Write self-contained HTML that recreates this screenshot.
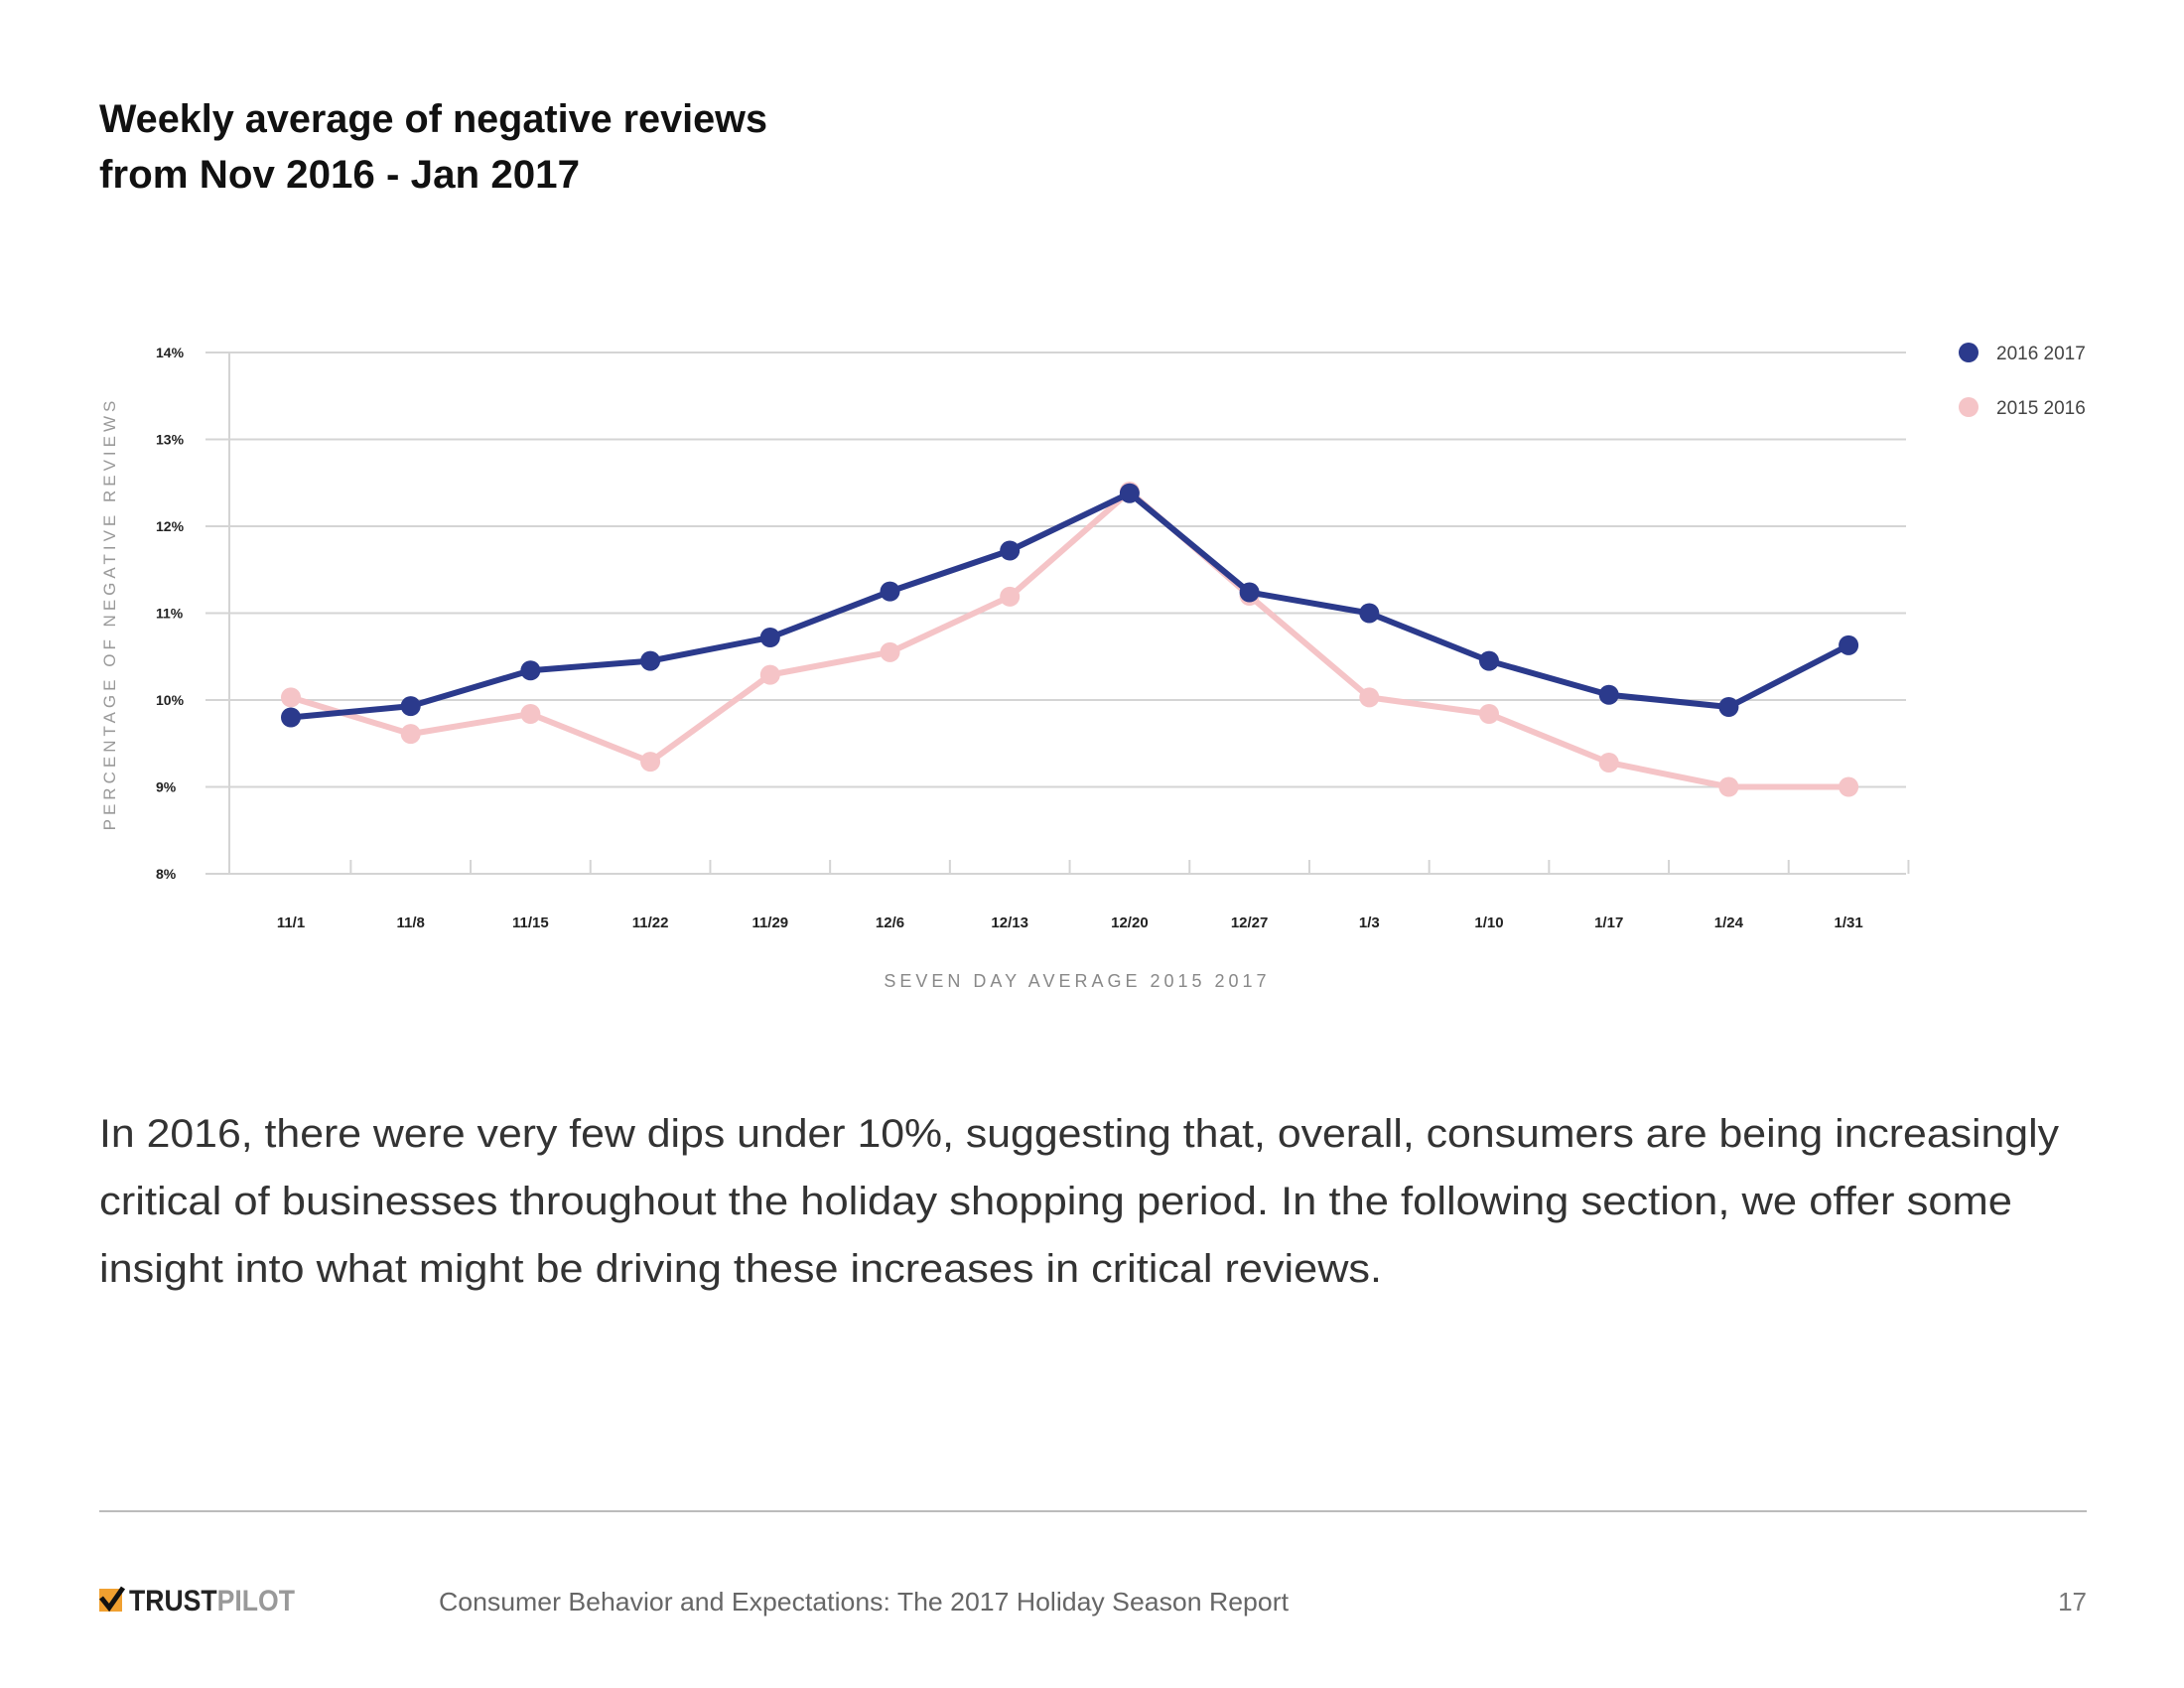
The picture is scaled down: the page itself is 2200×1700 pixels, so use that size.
<!DOCTYPE html>
<html><head><meta charset="utf-8"><style>
html,body{margin:0;padding:0;background:#fff;}
svg{display:block;font-family:"Liberation Sans",sans-serif;}
</style></head><body>
<svg width="2200" height="1700" viewBox="0 0 2200 1700" xmlns="http://www.w3.org/2000/svg">
<text x="100" y="133" font-size="40" font-weight="bold" fill="#111" textLength="673" lengthAdjust="spacingAndGlyphs">Weekly average of negative reviews</text>
<text x="100" y="189" font-size="40" font-weight="bold" fill="#111" textLength="484" lengthAdjust="spacingAndGlyphs">from Nov 2016 - Jan 2017</text>
<g id="chart"></g>
<text font-size="17" fill="#999" letter-spacing="4" text-anchor="middle" transform="translate(116,618) rotate(-90)">PERCENTAGE OF NEGATIVE REVIEWS</text>
<text x="1085" y="994" font-size="18" fill="#888" letter-spacing="4" text-anchor="middle">SEVEN DAY AVERAGE 2015 2017</text>
<g>
<circle cx="1983" cy="355" r="10" fill="#2b3a8c"/>
<text x="2011" y="362" font-size="19" fill="#444">2016  2017</text>
<circle cx="1983" cy="410" r="10" fill="#f5c4c7"/>
<text x="2011" y="417" font-size="19" fill="#444">2015  2016</text>
</g>
<g font-size="40" fill="#333">
<text x="100" y="1155" textLength="1974" lengthAdjust="spacingAndGlyphs">In 2016, there were very few dips under 10%, suggesting that, overall, consumers are being increasingly</text>
<text x="100" y="1223" textLength="1927" lengthAdjust="spacingAndGlyphs">critical of businesses throughout the holiday shopping period. In the following section, we offer some</text>
<text x="100" y="1291" textLength="1292" lengthAdjust="spacingAndGlyphs">insight into what might be driving these increases in critical reviews.</text>
</g>
<line x1="100" y1="1522" x2="2102" y2="1522" stroke="#bbb" stroke-width="2"/>
<g>
<rect x="100" y="1600" width="23" height="23" fill="#f0a030"/>
<path d="M102 1609 L110 1619 L124 1599" stroke="#111" stroke-width="5" fill="none"/>
<text x="130" y="1622" font-size="30" font-weight="bold" fill="#222" textLength="167" lengthAdjust="spacingAndGlyphs">TRUST<tspan fill="#999">PILOT</tspan></text>
</g>
<text x="442" y="1622" font-size="26" fill="#666" textLength="856" lengthAdjust="spacingAndGlyphs">Consumer Behavior and Expectations: The 2017 Holiday Season Report</text>
<text x="2102" y="1622" font-size="26" fill="#777" text-anchor="end">17</text>
</svg>
<script>
const categories = ["11/1","11/8","11/15","11/22","11/29","12/6","12/13","12/20","12/27","1/3","1/10","1/17","1/24","1/31"];
const series2016 = [9.8,9.93,10.34,10.45,10.72,11.25,11.72,12.38,11.24,11.0,10.45,10.06,9.92,10.63];
const series2015 = [10.03,9.61,9.84,9.29,10.29,10.55,11.19,12.4,11.2,10.03,9.84,9.28,9.0,9.0];
const yTicks = [8,9,10,11,12,13,14];
const yTickLabels = ["8%","9%","10%","11%","12%","13%","14%"];

const NS = "http://www.w3.org/2000/svg";
const g = document.getElementById('chart');
const plotL = 231, plotR = 1920, yTop = 355, yBot = 880, firstX = 293, stepX = 120.7;
const yMin = 8, yMax = 14;
const xs = i => firstX + i * stepX;
const ys = v => yBot - (v - yMin) / (yMax - yMin) * (yBot - yTop);
function mk(tag, attrs){ const e = document.createElementNS(NS, tag); for (const k in attrs) e.setAttribute(k, attrs[k]); g.appendChild(e); return e; }

yTicks.forEach((t, i) => {
  const gl = mk('line', {x1: 207, x2: plotR, y1: ys(t), y2: ys(t), stroke: '#d4d4d4', 'stroke-width': 2});
  
  
  const lb = mk('text', {x: 157, y: ys(t) + 5, 'font-size': 14, 'font-weight': 'bold', fill: '#222'});
  lb.textContent = yTickLabels[i];
  
  
});
const ax = mk('line', {x1: plotL, x2: plotL, y1: yTop, y2: yBot, stroke: '#d4d4d4', 'stroke-width': 2});


for (let i = 1; i <= categories.length; i++) {
  const tx = xs(i) - stepX / 2;
  const tk = mk('line', {x1: tx, x2: tx, y1: yBot - 14, y2: yBot, stroke: '#d4d4d4', 'stroke-width': 2});
  
  
}
categories.forEach((c, i) => {
  const t = mk('text', {x: xs(i), y: 934, 'font-size': 15, 'font-weight': 'bold', fill: '#222', 'text-anchor': 'middle'});
  t.textContent = c;
  
  
});
function drawSeries(vals, color, name){
  const pts = vals.map((v, i) => xs(i) + ',' + ys(v)).join(' ');
  const pl = mk('polyline', {points: pts, fill: 'none', stroke: color, 'stroke-width': 6, 'stroke-linejoin': 'round'});
  
  
  vals.forEach((v, i) => {
    const c = mk('circle', {cx: xs(i), cy: ys(v), r: 10, fill: color});
    
    
  });
}
drawSeries(series2015, '#f5c4c7', 'series-2015-2016');
drawSeries(series2016, '#2b3a8c', 'series-2016-2017');
</script>
</body></html>
